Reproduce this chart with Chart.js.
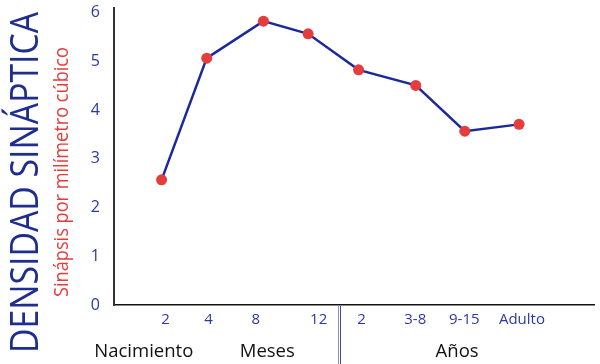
<!DOCTYPE html>
<html>
<head>
<meta charset="utf-8">
<script src="https://cdn.jsdelivr.net/npm/chart.js@4/dist/chart.umd.min.js"></script>
<style>
  body { margin: 0; background: #fff; }
  canvas { display: block; }
</style>
</head>
<body>
<canvas id="chart" width="600" height="364"></canvas>
<script>
// point positions along the (unevenly spaced) age axis, 0-100 units
const agePositions = [9.9, 19.3, 31.1, 40.4, 50.9, 62.8, 73.0, 84.3];
const density = [2.57, 5.07, 5.83, 5.57, 4.83, 4.51, 3.57, 3.71];

// tick labels under the axis (they do not sit exactly under the points)
const tickPositions = [10.7, 19.7, 29.5, 42.6, 51.5, 62.7, 72.9, 84.9];
const tickLabels = ["2", "4", "8", "12", "2", "3-8", "9-15", "Adulto"];

// group labels and the split between months and years
const groupPositions = [6.2, 31.9, 71.4];
const groupLabels = ["Nacimiento", "Meses", "Años"];
const splitPosition = 46.9;

const yTicks = [0, 1, 2, 3, 4, 5, 6];

const FONT = "'Open Sans', 'Noto Sans', sans-serif";
const BLUE = "#1f2d8f";
const TICK_BLUE = "#2b3aa0";
const RED = "#e53c3c";

const sideTitles = {
  id: "sideTitles",
  afterDraw(chart) {
    const ctx = chart.ctx;
    const x = chart.scales.x;
    const area = chart.chartArea;

    // big vertical title
    ctx.save();
    ctx.translate(37.5, 353);
    ctx.rotate(-Math.PI / 2);
    ctx.font = `38px ${FONT}`;
    let w = ctx.measureText("DENSIDAD SINÁPTICA").width;
    ctx.scale(341 / w, 1);
    ctx.fillStyle = BLUE;
    ctx.textBaseline = "alphabetic";
    ctx.fillText("DENSIDAD SINÁPTICA", 0, 0);
    ctx.restore();

    // red subtitle
    ctx.save();
    ctx.translate(68, 297);
    ctx.rotate(-Math.PI / 2);
    ctx.font = `20px ${FONT}`;
    w = ctx.measureText("Sinápsis por milímetro cúbico").width;
    ctx.scale(250 / w, 1);
    ctx.fillStyle = RED;
    ctx.fillText("Sinápsis por milímetro cúbico", 0, 0);
    ctx.restore();

    // double line between months and years
    const px = Math.round(x.getPixelForValue(splitPosition));
    ctx.save();
    ctx.lineWidth = 1;
    ctx.strokeStyle = "#8a90d6";
    ctx.beginPath();
    ctx.moveTo(px - 1 + 0.5, area.bottom + 1);
    ctx.lineTo(px - 1 + 0.5, chart.height);
    ctx.stroke();
    ctx.strokeStyle = "#3c46b8";
    ctx.beginPath();
    ctx.moveTo(px + 1 + 0.5, area.bottom + 1);
    ctx.lineTo(px + 1 + 0.5, chart.height);
    ctx.stroke();
    ctx.restore();
  },
};

const points = agePositions.map((x, i) => ({ x, y: density[i] }));

const noPad = (scale) => {
  scale.paddingTop = 0;
  scale.paddingBottom = 0;
  scale.paddingLeft = 0;
  scale.paddingRight = 0;
};

new Chart(document.getElementById("chart").getContext("2d"), {
  type: "line",
  data: {
    datasets: [
      {
        data: points,
        borderColor: "#1a2a9c",
        borderWidth: 2.5,
        pointBackgroundColor: RED,
        pointBorderColor: RED,
        pointBorderWidth: 0,
        pointRadius: 5.5,
        tension: 0,
        clip: false,
      },
    ],
  },
  options: {
    responsive: false,
    animation: false,
    devicePixelRatio: 1,
    layout: { padding: { top: 8, right: 3, left: 0, bottom: 0 } },
    plugins: { legend: { display: false }, tooltip: { enabled: false } },
    scales: {
      x: {
        type: "linear",
        min: 0,
        max: 100,
        position: "bottom",
        grid: { display: false, drawTicks: false },
        border: { color: "#111", width: 1.5 },
        afterBuildTicks: (scale) => {
          scale.ticks = tickPositions.map((value) => ({ value }));
        },
        afterFit: (scale) => {
          scale.height = 30;
          noPad(scale);
        },
        ticks: {
          autoSkip: false,
          maxRotation: 0,
          padding: 6,
          color: TICK_BLUE,
          font: { family: FONT, size: 15 },
          callback: (value) => tickLabels[tickPositions.indexOf(value)],
        },
      },
      x2: {
        type: "linear",
        min: 0,
        max: 100,
        position: "bottom",
        grid: { display: false, drawTicks: false },
        border: { display: false },
        afterBuildTicks: (scale) => {
          scale.ticks = groupPositions.map((value) => ({ value }));
        },
        afterFit: (scale) => {
          scale.height = 29;
          noPad(scale);
        },
        ticks: {
          autoSkip: false,
          maxRotation: 0,
          padding: 6,
          color: "#111",
          font: { family: FONT, size: 18.5 },
          callback: (value) => groupLabels[groupPositions.indexOf(value)],
        },
      },
      y: {
        min: 0,
        max: 6.1,
        grid: { display: false, drawTicks: false },
        border: { color: "#333", width: 2 },
        afterBuildTicks: (scale) => {
          scale.ticks = yTicks.map((value) => ({ value }));
        },
        afterFit: (scale) => {
          scale.width = 114;
          noPad(scale);
        },
        ticks: {
          padding: 14,
          color: TICK_BLUE,
          font: { family: FONT, size: 16 },
        },
      },
    },
  },
  plugins: [sideTitles],
});
</script>
</body>
</html>
